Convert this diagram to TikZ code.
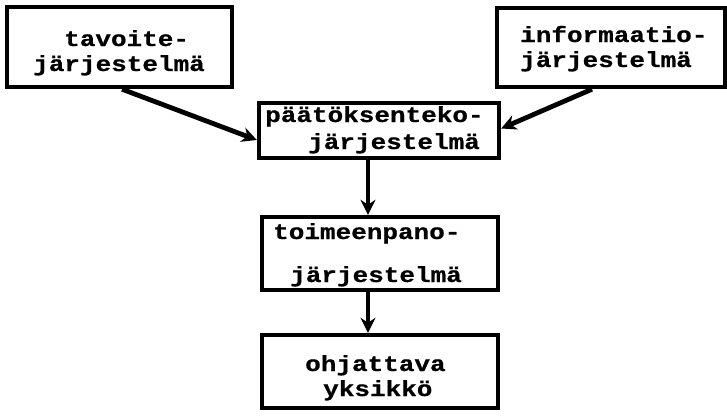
\documentclass[tikz,border=0pt]{standalone}
\usepackage{fontspec}
\newfontfamily\twfont[BoldFeatures={FakeBold=0.6}]{Liberation Mono}
\usetikzlibrary{arrows.meta}
% typewriter lettering, slightly squat
\newcommand{\tw}[1]{\scalebox{1}[0.84]{#1}}
\begin{document}
\begin{tikzpicture}[x=1pt,y=-1pt,
  box/.style={draw,line width=4.4pt,rectangle,inner sep=0pt},
  lbl/.style={anchor=base west,inner sep=0pt,font=\twfont\bfseries\fontsize{26}{28}\selectfont},
  arr/.style={line width=4.8pt,-{Stealth[length=15pt,width=15pt]}}]
\fill[white] (0,0) rectangle (727,418);
\useasboundingbox (0,0) rectangle (727,418);
% boxes
\node[box,minimum width=225pt,minimum height=80pt] (tav) at (119.5,47) {};
\node[box,minimum width=228pt,minimum height=79pt] (inf) at (611,47.5) {};
\node[box,minimum width=240pt,minimum height=55pt] (pat) at (379,130.5) {};
\node[box,minimum width=236pt,minimum height=73pt] (toi) at (380,253.5) {};
\node[box,minimum width=236pt,minimum height=73pt] (ohj) at (380,371.5) {};
% labels
\node[lbl] (tav1) at (64,46) {\tw{tavoite-}};
\node[lbl] (tav2) at (33,71) {\tw{järjestelmä}};
\node[lbl] (inf1) at (520,42) {\tw{informaatio-}};
\node[lbl] (inf2) at (520,67) {\tw{järjestelmä}};
\node[lbl] (pat1) at (265,122) {\tw{päätöksenteko-}};
\node[lbl] (pat2) at (308,149) {\tw{järjestelmä}};
\node[lbl] (toi1) at (273,239) {\tw{toimeenpano-}};
\node[lbl] (toi2) at (290,282) {\tw{järjestelmä}};
\node[lbl] (ohj1) at (305,371) {\tw{ohjattava}};
\node[lbl] (ohj2) at (323,396) {\tw{yksikkö}};
% connectors
\draw[arr] ([xshift=2.5pt]tav.south) -- ([yshift=-9.5pt]pat.west);
\draw[arr] ([xshift=-19pt]inf.south) -- ([yshift=2pt]pat.east);
\draw[arr] ([xshift=-11pt]pat.south) -- ([xshift=-12pt]toi.north);
\draw[arr] ([xshift=-12pt]toi.south) -- ([xshift=-12pt]ohj.north);
\end{tikzpicture}
\end{document}
